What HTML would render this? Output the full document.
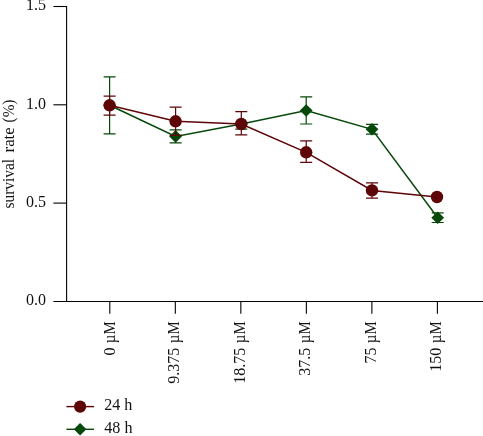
<!DOCTYPE html>
<html><head><meta charset="utf-8"><title>survival rate</title>
<style>html,body{margin:0;padding:0;background:#fff}svg{display:block}text{font-family:"Liberation Serif","DejaVu Serif",serif;font-size:16px;fill:#111}</style></head><body>
<svg width="483" height="436" viewBox="0 0 483 436">
<rect width="483" height="436" fill="#fff"/>
<g stroke="#000" stroke-width="1.1" fill="none" stroke-linecap="butt">
<path d="M66.6 5.95V301.45"/>
<path d="M53.4 301.45H483"/>
<path d="M53.4 6.5H66.6"/>
<path d="M53.4 104.8H66.6"/>
<path d="M53.4 203.1H66.6"/>
<path d="M109.8 301.45V313.7"/>
<path d="M175.32 301.45V313.7"/>
<path d="M240.84 301.45V313.7"/>
<path d="M306.36 301.45V313.7"/>
<path d="M371.88 301.45V313.7"/>
<path d="M437.4 301.45V313.7"/>
</g>
<text x="46.0" y="10.4" text-anchor="end">1.5</text>
<text x="46.0" y="108.9" text-anchor="end">1.0</text>
<text x="46.0" y="207.1" text-anchor="end">0.5</text>
<text x="46.0" y="305.3" text-anchor="end">0.0</text>
<text transform="translate(13.7 208.3) rotate(-90)"><tspan x="-0.2" textLength="49.6" lengthAdjust="spacingAndGlyphs">survival</tspan> <tspan x="55.9" textLength="25.1" lengthAdjust="spacingAndGlyphs">rate</tspan> <tspan x="85.9" textLength="22.8" lengthAdjust="spacingAndGlyphs">(%)</tspan></text>
<text transform="translate(114.50 321.3) rotate(-90)"><tspan x="-34.10">0</tspan> <tspan x="-21.9" textLength="21.9" lengthAdjust="spacingAndGlyphs">µM</tspan></text>
<text transform="translate(178.92 321.3) rotate(-90)"><tspan x="-62.40">9.375</tspan> <tspan x="-21.9" textLength="21.9" lengthAdjust="spacingAndGlyphs">µM</tspan></text>
<text transform="translate(245.44 321.3) rotate(-90)"><tspan x="-62.35">18.75</tspan> <tspan x="-21.9" textLength="21.9" lengthAdjust="spacingAndGlyphs">µM</tspan></text>
<text transform="translate(310.26 321.3) rotate(-90)"><tspan x="-54.35">37.5</tspan> <tspan x="-21.9" textLength="21.9" lengthAdjust="spacingAndGlyphs">µM</tspan></text>
<text transform="translate(375.98 321.3) rotate(-90)"><tspan x="-42.20">75</tspan> <tspan x="-21.9" textLength="21.9" lengthAdjust="spacingAndGlyphs">µM</tspan></text>
<text transform="translate(441.20 321.3) rotate(-90)"><tspan x="-50.40">150</tspan> <tspan x="-21.9" textLength="21.9" lengthAdjust="spacingAndGlyphs">µM</tspan></text>
<g stroke="#06480a" stroke-width="1.2" fill="none">
<path d="M109.6 76.9V133.9M103.6 76.9H115.6M103.6 133.9H115.6"/>
<path d="M175.6 129.8V142.8M169.6 129.8H181.6M169.6 142.8H181.6"/>
<path d="M241.3 124.0V129.1M235.3 124.0H247.3M235.3 129.1H247.3"/>
<path d="M306.2 96.8V124.0M300.2 96.8H312.2M300.2 124.0H312.2"/>
<path d="M372.0 124.3V134.2M366.0 124.3H378.0M366.0 134.2H378.0"/>
<path d="M437.7 212.8V222.5M431.7 212.8H443.7M431.7 222.5H443.7"/>
<polyline points="109.6,105.3 175.6,136.4 241.3,124.0 306.2,110.5 372.0,129.3 437.7,217.7" stroke-width="1.5"/>
</g>
<g fill="#06480a">
<path d="M109.6 99.0L116.0 105.3L109.6 111.6L103.2 105.3Z"/>
<path d="M175.6 130.1L182.0 136.4L175.6 142.7L169.2 136.4Z"/>
<path d="M241.3 117.7L247.7 124.0L241.3 130.3L234.9 124.0Z"/>
<path d="M306.2 104.2L312.6 110.5L306.2 116.8L299.8 110.5Z"/>
<path d="M372.0 123.0L378.4 129.3L372.0 135.6L365.6 129.3Z"/>
<path d="M437.7 211.4L444.1 217.7L437.7 224.0L431.3 217.7Z"/>
</g>
<g stroke="#5e0508" stroke-width="1.2" fill="none">
<path d="M109.6 96.1V115.2M103.6 96.1H115.6M103.6 115.2H115.6"/>
<path d="M175.6 107.2V135.4M169.6 107.2H181.6M169.6 135.4H181.6"/>
<path d="M241.3 111.6V134.9M235.3 111.6H247.3M235.3 134.9H247.3"/>
<path d="M306.2 140.9V162.3M300.2 140.9H312.2M300.2 162.3H312.2"/>
<path d="M372.0 182.8V198.2M366.0 182.8H378.0M366.0 198.2H378.0"/>
<polyline points="109.6,105.3 175.6,121.3 241.3,124.0 306.2,152.3 372.0,190.4 437.0,197.0" stroke-width="1.5"/>
</g>
<g fill="#5e0508">
<circle cx="109.6" cy="105.3" r="6.2"/>
<circle cx="175.6" cy="121.3" r="6.2"/>
<circle cx="241.3" cy="124.0" r="6.2"/>
<circle cx="306.2" cy="152.3" r="6.2"/>
<circle cx="372.0" cy="190.4" r="6.2"/>
<circle cx="437.0" cy="197.0" r="6.2"/>
</g>
<path d="M66.4 406.6H94" stroke="#5e0508" stroke-width="1.4"/><circle cx="80.1" cy="406.6" r="6.1" fill="#5e0508"/>
<path d="M66.4 429.3H94" stroke="#06480a" stroke-width="1.4"/><path d="M80.1 423.1L86.4 429.3L80.1 435.5L73.8 429.3Z" fill="#06480a"/>
<text x="104.2" y="410.4" textLength="28.2" lengthAdjust="spacingAndGlyphs">24 h</text>
<text x="104.3" y="432.7" textLength="28.2" lengthAdjust="spacingAndGlyphs">48 h</text>
</svg></body></html>
